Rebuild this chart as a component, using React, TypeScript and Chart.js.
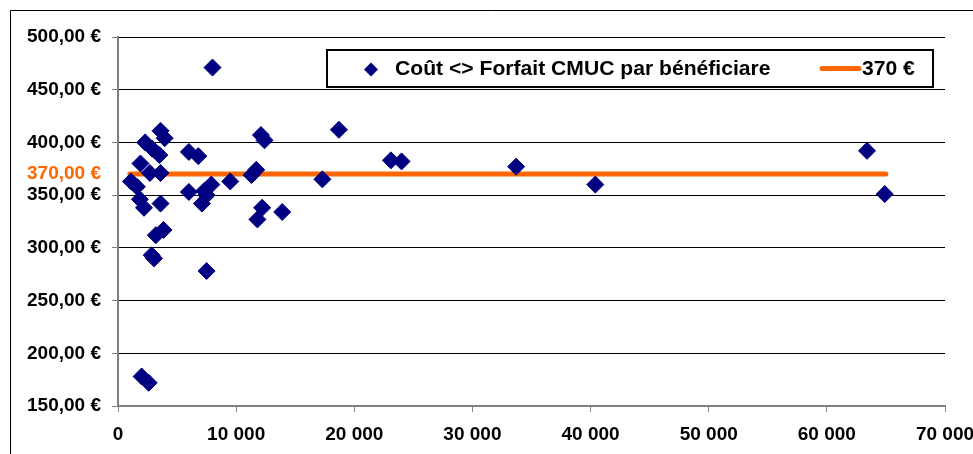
import React, { useEffect, useRef } from 'react';
import { Chart, registerables } from 'chart.js';

Chart.register(...registerables);

// Bénéficiaires (x) and coût par bénéficiaire (y)
const costX = [
  8000, 18700, 63400, 64900, 40400, 33700, 23100, 24000, 17300, 13900,
  12100, 12400, 11700, 11300, 11800, 12200, 9500, 7900, 7500, 7100,
  7500, 6000, 6800, 6000, 3600, 3950, 2300, 2900, 3500, 1900,
  2700, 3600, 1100, 1600, 1850, 2200, 3600, 3200, 3850, 2850,
  3050, 2000, 2600, 7300,
];
const costY = [
  471, 412, 392, 351, 360, 377, 383, 382, 365, 334,
  407, 402, 374, 369, 327, 338, 363, 360, 350, 342,
  278, 391, 387, 353, 411, 404, 400, 394, 388, 380,
  371, 371, 363, 358, 346, 338, 342, 312, 317, 293,
  290, 178, 172, 354,
];
const forfaitX = [1000, 65000];
const forfaitY = [370, 370];
const yTicks = [150, 200, 250, 300, 350, 370, 400, 450, 500];
const xTicks = [0, 10000, 20000, 30000, 40000, 50000, 60000, 70000];
const seriesLabel = 'Coût <> Forfait CMUC par bénéficiare';
const lineLabel = '370 €';

const NAVY = '#000080';
const ORANGE = '#FF6600';
const FONT = "'Liberation Sans', Arial, sans-serif";

const fmtEuro = (v: number) => v.toFixed(2).replace('.', ',') + ' €';
const fmtThousands = (v: number) => String(v).replace(/\B(?=(\d{3})+(?!\d))/g, ' ');

const framePlugin = {
  id: 'frameAndLegend',
  beforeDraw(chart: any) {
    const ctx = chart.ctx;
    ctx.save();
    ctx.fillStyle = '#fff';
    ctx.fillRect(0, 0, chart.width, chart.height);
    ctx.strokeStyle = '#000';
    ctx.lineWidth = 1;
    ctx.beginPath();
    ctx.moveTo(10.5, chart.height + 5);
    ctx.lineTo(10.5, 10.5);
    ctx.lineTo(chart.width + 5, 10.5);
    ctx.stroke();
    ctx.restore();
  },
  afterDraw(chart: any) {
    const ctx = chart.ctx;
    ctx.save();
    const bx = 327, by = 50, bw = 606, bh = 37;
    ctx.fillStyle = '#fff';
    ctx.fillRect(bx, by, bw, bh);
    ctx.strokeStyle = '#000';
    ctx.lineWidth = 2;
    ctx.strokeRect(bx, by, bw, bh);
    const cy = by + bh / 2 + 1;
    // diamond marker
    ctx.fillStyle = NAVY;
    ctx.beginPath();
    ctx.moveTo(371 - 7, cy);
    ctx.lineTo(371, cy - 7);
    ctx.lineTo(371 + 7, cy);
    ctx.lineTo(371, cy + 7);
    ctx.closePath();
    ctx.fill();
    // texts
    ctx.fillStyle = '#000';
    ctx.font = `bold 20px ${FONT}`;
    ctx.textBaseline = 'middle';
    ctx.textAlign = 'left';
    ctx.save();
    ctx.translate(395, cy);
    ctx.scale(1.056, 1);
    ctx.fillText(seriesLabel, 0, 0);
    ctx.restore();
    // orange line sample
    ctx.strokeStyle = ORANGE;
    ctx.lineWidth = 5;
    ctx.lineCap = 'round';
    ctx.beginPath();
    ctx.moveTo(822, cy - 1);
    ctx.lineTo(859, cy - 1);
    ctx.stroke();
    ctx.save();
    ctx.translate(862, cy);
    ctx.scale(1.056, 1);
    ctx.fillText(lineLabel, 0, 0);
    ctx.restore();
    ctx.restore();
  },
};

export default function App() {
  const canvasRef = useRef<HTMLCanvasElement | null>(null);

  useEffect(() => {
    if (!canvasRef.current) return;
    const chart = new Chart(canvasRef.current, {
      type: 'scatter',
      data: {
        datasets: [
          {
            label: seriesLabel,
            data: costX.map((x, i) => ({ x, y: costY[i] })),
            pointStyle: 'rectRot',
            pointRadius: 8.5,
            pointBackgroundColor: NAVY,
            pointBorderColor: NAVY,
            pointBorderWidth: 1,
            showLine: false,
          },
          {
            type: 'line',
            label: lineLabel,
            data: forfaitX.map((x, i) => ({ x, y: forfaitY[i] })),
            borderColor: ORANGE,
            borderWidth: 5,
            borderCapStyle: 'round',
            pointRadius: 0,
            showLine: true,
            fill: false,
          },
        ],
      } as any,
      options: {
        animation: false,
        responsive: false,
        devicePixelRatio: 1,
        events: [],
        layout: { padding: { top: 37, right: 28, left: 0, bottom: 0 } },
        plugins: {
          legend: { display: false },
          tooltip: { enabled: false },
        },
        scales: {
          x: {
            type: 'linear',
            min: 0,
            max: 70000,
            afterBuildTicks: (scale: any) => {
              scale.ticks = xTicks.map((v) => ({ value: v }));
            },
            afterFit: (scale: any) => {
              scale.height = 48;
              scale.paddingLeft = 0;
              scale.paddingRight = 0;
            },
            ticks: {
              autoSkip: false,
              maxRotation: 0,
              padding: 11,
              color: '#000',
              font: { family: FONT, size: 19, weight: 'bold' },
              callback: (v: any) => fmtThousands(Number(v)),
            },
            grid: {
              drawOnChartArea: false,
              drawTicks: true,
              tickLength: 6,
              tickColor: '#808080',
              tickWidth: 1,
            },
            border: { display: true, color: '#808080', width: 2 },
          },
          y: {
            type: 'linear',
            min: 150,
            max: 500,
            afterBuildTicks: (scale: any) => {
              scale.ticks = yTicks.map((v) => ({ value: v }));
            },
            afterFit: (scale: any) => {
              scale.width = 118;
              scale.paddingTop = 0;
              scale.paddingBottom = 0;
            },
            ticks: {
              autoSkip: false,
              padding: 11,
              color: (c: any) => (c.tick && c.tick.value === 370 ? ORANGE : '#000'),
              font: { family: FONT, size: 19, weight: 'bold' },
              callback: (v: any) => fmtEuro(Number(v)),
            },
            grid: {
              color: (c: any) => (c.tick && c.tick.value === 370 ? 'rgba(0,0,0,0)' : '#000'),
              lineWidth: 1,
              tickLength: 6,
              tickColor: (c: any) => (c.tick && c.tick.value === 370 ? 'rgba(0,0,0,0)' : '#808080'),
            },
            border: { display: true, color: '#808080', width: 2 },
          },
        },
      } as any,
      plugins: [framePlugin],
    });
    return () => chart.destroy();
  }, []);

  return (
    <div style={{ position: 'absolute', left: 0, top: 0, width: 973, height: 454 }}>
      <canvas ref={canvasRef} width={973} height={454} style={{ display: 'block' }} />
    </div>
  );
}
